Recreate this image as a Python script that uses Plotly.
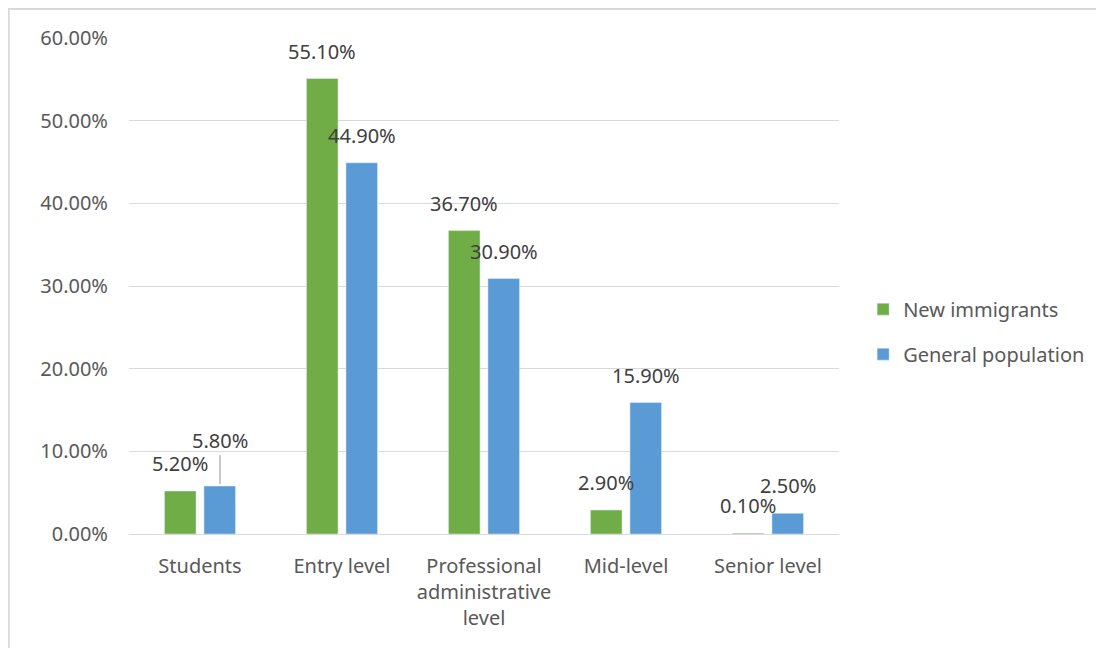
import plotly.graph_objects as go

# Chart data (percent)
categories = ["Students", "Entry level", "Professional<br>administrative<br>level",
              "Mid-level", "Senior level"]
new_immigrants = [5.2, 55.1, 36.7, 2.9, 0.1]
general_population = [5.8, 44.9, 30.9, 15.9, 2.5]
y_ticks = [0, 10, 20, 30, 40, 50, 60]

GREEN = "#70AD47"
BLUE = "#5B9BD5"
GRID = "#D9D9D9"
FONT = "Noto Sans"

fig = go.Figure()
fig.add_bar(x=categories, y=[v / 100 for v in new_immigrants], name="New immigrants",
            marker_color=GREEN, legendgroup="a")
fig.add_bar(x=categories, y=[v / 100 for v in general_population], name="General population",
            marker_color=BLUE, legendgroup="b")

# Excel-like data labels
annotations = []
for series, shift in ((new_immigrants, -20), (general_population, 20)):
    for cat, v in zip(categories, series):
        ann = dict(x=cat, y=v / 100, xref="x", yref="y", text=f"{v:.2f}%",
                   xshift=shift, font=dict(family=FONT, size=20, color="#404040"))
        if cat == "Students" and shift > 0:
            # label pushed up with a leader line
            ann.update(showarrow=True, ax=0, ay=-46, arrowhead=0, arrowwidth=1.2,
                       arrowcolor="#A6A6A6", standoff=2)
        else:
            ann.update(showarrow=False, yanchor="bottom", yshift=12)
        annotations.append(ann)

# page body adds an 8px margin, so the figure is 1096x640
fig.update_layout(
    width=1096, height=640,
    paper_bgcolor="white", plot_bgcolor="white",
    font=dict(family=FONT, size=20, color="#595959"),
    margin=dict(l=121, r=265, t=30, b=114),
    barmode="group", bargap=0.444, bargroupgap=0.2,
    showlegend=True,
    legend=dict(x=1.034, y=0.408, xanchor="left", yanchor="middle",
                font=dict(size=20, color="#595959"), tracegroupgap=16,
                traceorder="grouped"),
    annotations=annotations,
    shapes=[dict(type="rect", xref="paper", yref="paper",
                 x0=-121 / 710 + 0.001, x1=1.40, y0=-0.25, y1=1 + 30 / 496 - 0.002,
                 line=dict(color=GRID, width=2), layer="below")],
)
fig.update_xaxes(showgrid=False, showline=True, linecolor=GRID, linewidth=1,
                 ticks="", ticklabelstandoff=14, tickfont=dict(size=20, color="#595959"))
fig.update_yaxes(range=[0, 0.6], tickvals=[t / 100 for t in y_ticks], tickformat=".2%",
                 showgrid=True, gridcolor=GRID, gridwidth=1, zeroline=False,
                 showline=False, ticks="", ticklabelstandoff=20,
                 tickfont=dict(size=20, color="#595959"))

fig.write_html("out.html")
